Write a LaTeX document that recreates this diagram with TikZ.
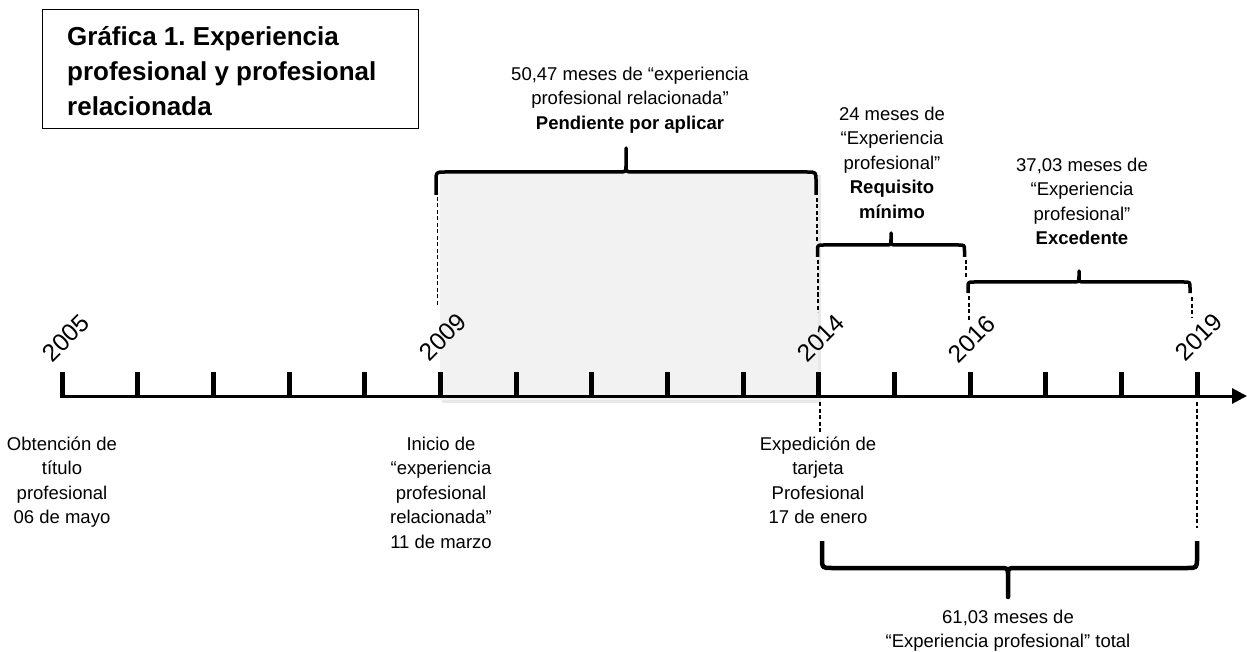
\documentclass[tikz,border=0pt]{standalone}
\usepackage{fontspec}
\setmainfont{Liberation Sans}
\usetikzlibrary{arrows.meta}
\frenchspacing
\begin{document}
\begin{tikzpicture}[x=1pt,y=-1pt,
  lbl/.style={align=center, inner sep=0pt, anchor=north, font=\fontsize{18.5}{24.5}\selectfont},
  yr/.style={rotate=45, inner sep=0pt, font=\fontsize{24.5}{24.5}\selectfont},
  brace/.style={line width=3.5pt, line join=round, line cap=butt},
  bigbrace/.style={line width=4.5pt, line join=round},
  guide/.style={line width=1.4pt, dash pattern=on 4pt off 2.5pt},
  tickmark/.style={line width=5pt},
  axisline/.style={line width=3pt, -{Triangle[length=15pt,width=15pt]}}
]
\useasboundingbox (0,0) rectangle (1247,652);
% shaded period with soft shadow
\fill[black!9] (442,175) rectangle (821,403);
\fill[black!5] (440,172) rectangle (818,400);
% title box
\node[draw, line width=1.2pt, minimum width=376pt, minimum height=119pt, anchor=north west, inner sep=0pt] (box) at (42,9) {};
\node[align=left, anchor=north west, inner sep=0pt, font=\fontsize{26}{35}\selectfont\bfseries] (title) at (67,24)
  {\rule{0pt}{21pt}Gráfica 1. Experiencia\\profesional y profesional\\relacionada};
% axis and ticks
\draw[axisline] (60,396) -- (1247,396);
\foreach \i in {0,...,15}{
  \coordinate (t\i) at ({62+\i*75.67},396);
  \draw[tickmark] ({62+\i*75.67},372) -- (t\i);
}
% year labels
\node[yr] (y2005) at (66,338) {2005};
\node[yr] (y2009) at (443,337) {2009};
\node[yr] (y2014) at (821,338) {2014};
\node[yr] (y2016) at (972,339) {2016};
\node[yr] (y2019) at (1199,337) {2019};
% braces
\draw[brace] (436,195) -- (436,181) .. controls (436,172) .. (445,172) -- (619,172) .. controls (626,172) .. (626,165) -- (626,148) -- (626,165) .. controls (626,172) .. (633,172) -- (807,172) .. controls (816,172) .. (816,181) -- (816,195);
\draw[brace] (817.5,257) -- (817.5,251) .. controls (817.5,245) .. (823.5,245) -- (885,245) .. controls (891,245) .. (891,239) -- (891,233) -- (891,239) .. controls (891,245) .. (897,245) -- (958.5,245) .. controls (964.5,245) .. (964.5,251) -- (964.5,257);
\draw[brace] (968,293) -- (968,288) .. controls (968,282) .. (974,282) -- (1073,282) .. controls (1079,282) .. (1079,276) -- (1079,271) -- (1079,276) .. controls (1079,282) .. (1085,282) -- (1184,282) .. controls (1190,282) .. (1190,288) -- (1190,293);
\draw[bigbrace] (822,541) -- (822,558) .. controls (822,568) .. (832,568) -- (1000,568) .. controls (1008,568) .. (1008,576) -- (1008,597) -- (1008,576) .. controls (1008,568) .. (1016,568) -- (1187,568) .. controls (1197,568) .. (1197,558) -- (1197,541);
% dashed guides
\draw[guide] (437.5,197) -- (437.5,307);
\draw[guide] (817,198) -- (817,241);
\draw[guide] (818,260) -- (818,312);
\draw[guide] (966,260) -- (966,279);
\draw[guide] (969,296) -- (969,320);
\draw[guide] (1192,297) -- (1192,317);
\draw[guide] (820,402) -- (820,433);
\draw[guide] (1197,402) -- (1197,528);
% labels
\node[lbl] (obt) at (62,433) {\rule{0pt}{17pt}Obtención de\\título\\profesional\\06 de mayo};
\node[lbl] (ini) at (441,433) {\rule{0pt}{17pt}Inicio de\\“experiencia\\profesional\\relacionada”\\11 de marzo};
\node[lbl] (exp) at (818,433) {\rule{0pt}{17pt}Expedición de\\tarjeta\\Profesional\\17 de enero};
\node[lbl] (tot) at (1008,606) {\rule{0pt}{17pt}61,03 meses de\\“Experiencia profesional” total};
\node[lbl] (pen) at (630,63) {\rule{0pt}{17pt}50,47 meses de “experiencia\\profesional relacionada”\\\textbf{Pendiente por aplicar}};
\node[lbl] (req) at (892,103) {\rule{0pt}{17pt}24 meses de\\“Experiencia\\profesional”\\\textbf{Requisito}\\\textbf{mínimo}};
\node[lbl] (exc) at (1082,154) {\rule{0pt}{17pt}37,03 meses de\\“Experiencia\\profesional”\\\textbf{Excedente}};
\end{tikzpicture}
\end{document}
